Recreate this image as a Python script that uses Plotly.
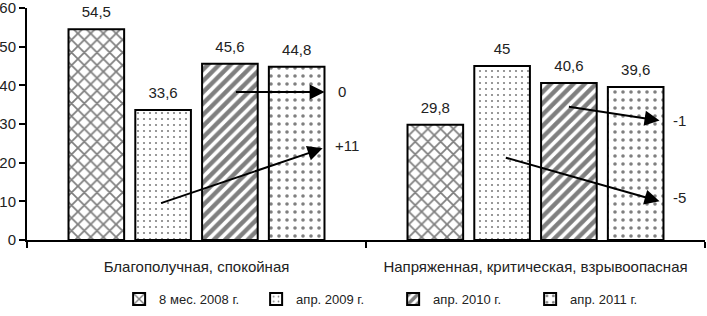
import plotly.graph_objects as go

categories = ["Благополучная, спокойная", "Напряженная, критическая, взрывоопасная"]
series_names = ["8 мес. 2008 г.", "апр. 2009 г.", "апр. 2010 г.", "апр. 2011 г."]
values_2008 = [54.5, 29.8]
values_2009 = [33.6, 45]
values_2010 = [45.6, 40.6]
values_2011 = [44.8, 39.6]
all_values = [values_2008, values_2009, values_2010, values_2011]

arrow_labels = ["0", "+11", "-1", "-5"]

FONT = "Liberation Sans, Arial, sans-serif"
TXT = "#222"
LABEL_PAD = 1.5  # gap (in axis units) between bar top and its value label

patterns = [
    dict(shape="x", size=9, solidity=0.35, fgcolor="black", bgcolor="white"),
    dict(shape=".", size=6, solidity=0.1, fgcolor="black", bgcolor="white"),
    dict(shape="/", size=8, solidity=0.55, fgcolor="black", bgcolor="white"),
    dict(shape=".", size=8, solidity=0.16, fgcolor="black", bgcolor="white"),
]

def fmt(v):
    return f"{v:g}".replace(".", ",")

fig = go.Figure()
for i, (name, vals, pat) in enumerate(zip(series_names, all_values, patterns)):
    fig.add_trace(go.Bar(
        x=categories, y=vals, name=name, offsetgroup=str(i),
        marker=dict(color="white", line=dict(color="black", width=2), pattern=pat),
    ))
    # transparent spacer on top of each bar carrying the value label
    fig.add_trace(go.Bar(
        x=categories, y=[LABEL_PAD] * len(vals), base=vals, offsetgroup=str(i),
        marker=dict(color="rgba(0,0,0,0)", line=dict(width=0)),
        text=[fmt(v) for v in vals], textposition="outside",
        textfont=dict(family=FONT, size=15, color=TXT),
        cliponaxis=False, showlegend=False, hoverinfo="skip",
    ))

arrows = [
    (0.112, 38.3, 0.378, 38.3, 0.43, 38.3, arrow_labels[0]),
    (-0.109, 9.4, 0.372, 23.7, 0.445, 24.4, arrow_labels[1]),
    (1.094, 34.5, 1.366, 30.9, 1.425, 31.0, arrow_labels[2]),
    (0.908, 21.4, 1.366, 10.0, 1.425, 11.0, arrow_labels[3]),
]
for tx, ty, hx, hy, lx, ly, lab in arrows:
    fig.add_annotation(x=hx, y=hy, ax=tx, ay=ty, xref="x", yref="y", axref="x", ayref="y",
                       text="", showarrow=True, arrowhead=2, arrowsize=1.5, arrowwidth=2,
                       arrowcolor="black")
    fig.add_annotation(x=lx, y=ly, xref="x", yref="y", text=lab, showarrow=False,
                       font=dict(family=FONT, size=15, color=TXT))

fig.update_layout(
    width=707, height=316,
    margin=dict(l=27, r=2, t=8, b=73),
    plot_bgcolor="white", paper_bgcolor="white",
    barmode="group", bargap=0.212, bargroupgap=0.167,
    font=dict(family=FONT, size=13, color=TXT),
    showlegend=True,
    legend=dict(orientation="h", x=0.54, xanchor="center", y=-0.19, yanchor="top",
                font=dict(family=FONT, size=13, color=TXT), itemwidth=30,
                entrywidth=92, entrywidthmode="pixels", traceorder="normal"),
    xaxis=dict(showline=True, linecolor="black", linewidth=2, ticks="outside",
               tickson="boundaries", ticklen=6, tickcolor="black", tickwidth=2,
               showgrid=False, automargin=False, ticklabelstandoff=12,
               tickfont=dict(family=FONT, size=15, color=TXT)),
    yaxis=dict(range=[0, 60], dtick=10, showline=True, linecolor="black", linewidth=2,
               ticks="outside", ticklen=6, tickcolor="black", tickwidth=2, showgrid=False,
               zeroline=False, automargin=False, ticklabeloverflow="allow",
               tickfont=dict(family=FONT, size=15, color=TXT)),
)

fig.write_html("out.html", config={"displayModeBar": False},
               post_script="document.body.style.margin='0';")
